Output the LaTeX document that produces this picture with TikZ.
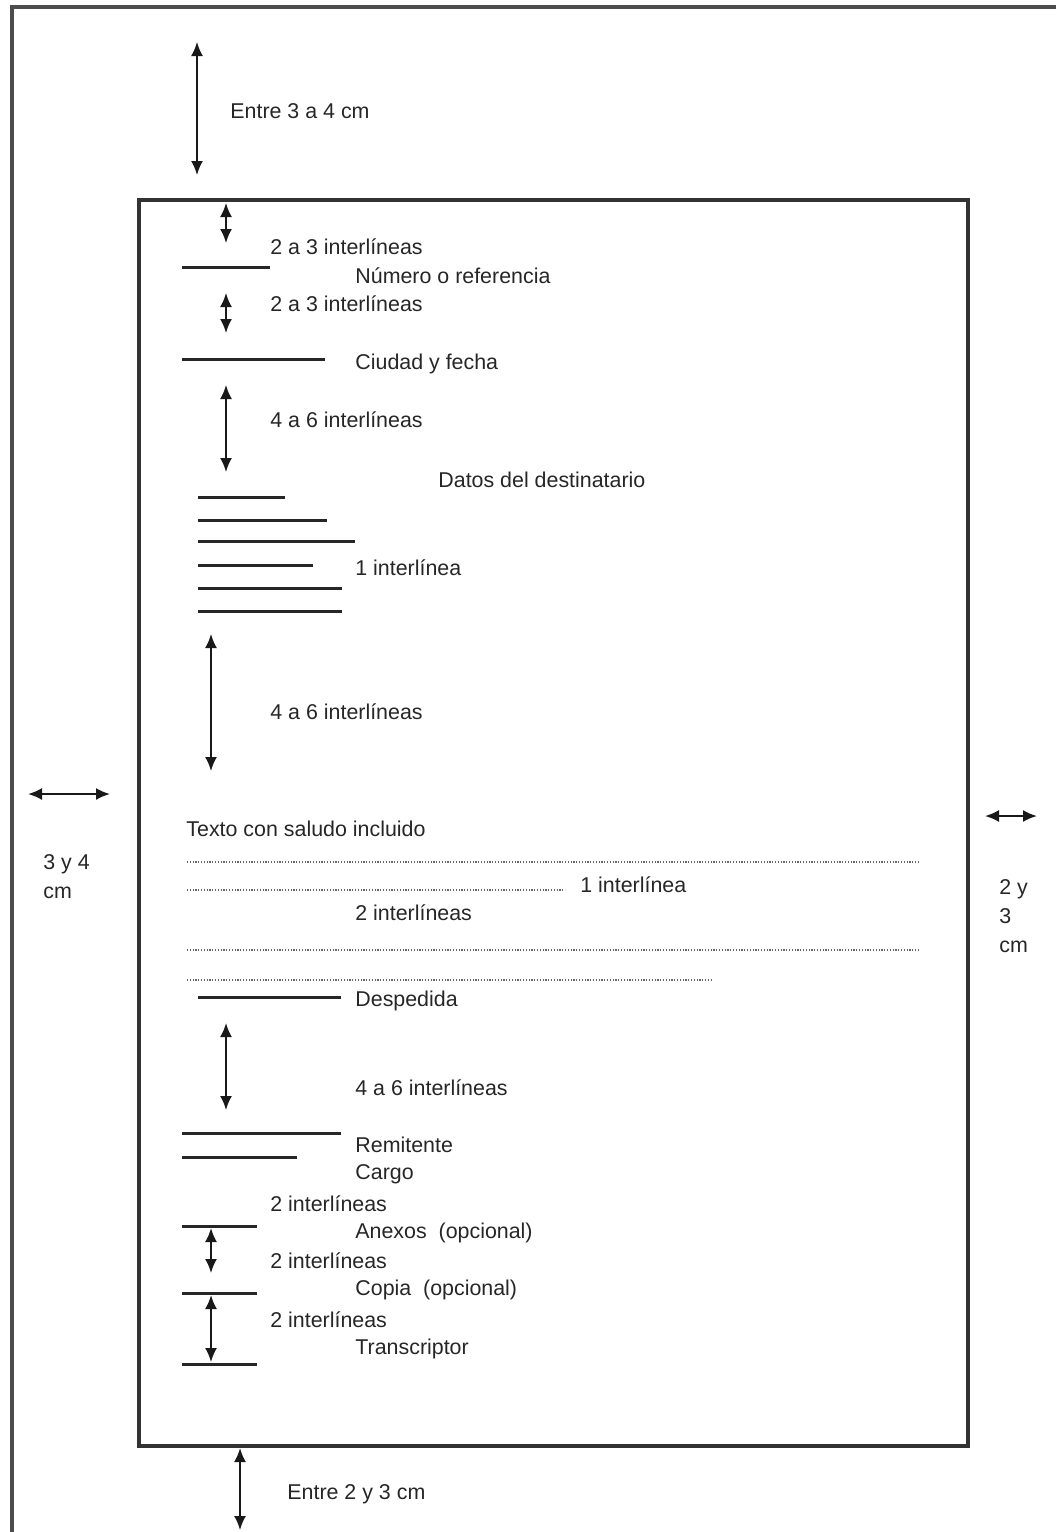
\documentclass[tikz,border=0pt]{standalone}
\usepackage{fontspec}
\setmainfont{Liberation Sans}
\usetikzlibrary{arrows.meta}

\begin{document}
\begin{tikzpicture}[x=0.5pt,y=-0.5pt,
    lbl/.style={anchor=west,inner sep=0pt,text=black!85,font=\fontsize{10.7}{14.5}\selectfont},
    dim/.style={{Latex[length=7pt,width=6pt]}-{Latex[length=7pt,width=6pt]},line width=1pt,black!90},
    rule/.style={line width=1.5pt,black!85},
    dots/.style={line width=0.8pt,black!60,dash pattern=on 0.6pt off 0.8pt}]
    \useasboundingbox (0,0) rectangle (1056,1532);
    \draw[line width=1.7pt,black!70] (1056,7) -- (12,7) -- (12,1532);
    \draw[line width=1.6pt,black!80] (139,200) rectangle (968,1446);
    % margins
    \draw[dim] (197,42) -- (197,175);
    \node[lbl] (top) at (230,111) {Entre 3 a 4 cm};
    \draw[dim] (28,794) -- (110,794);
    \node[lbl,align=left] (left) at (43,877) {3 y 4\\cm};
    \draw[dim] (985,816) -- (1037,816);
    \node[lbl,align=left] (right) at (999,916) {2 y\\3\\cm};
    \draw[dim] (240,1448) -- (240,1530);
    \node[lbl] (bottom) at (287,1494) {Entre 2 y 3 cm};
    % heading
    \draw[dim] (226,203) -- (226,243);
    \node[lbl] (s1) at (270,247) {2 a 3 interlíneas};
    \draw[rule] (182,267) -- (270,267);
    \node[lbl] (ref) at (355,276) {Número o referencia};
    \draw[dim] (226,293) -- (226,333);
    \node[lbl] (s2) at (270,304) {2 a 3 interlíneas};
    \draw[rule] (182,359) -- (325,359);
    \node[lbl] (city) at (355,364) {Ciudad y fecha};
    \draw[dim] (226,385) -- (226,472);
    \node[lbl] (s3) at (270,420) {4 a 6 interlíneas};
    \node[lbl] (dest) at (438,480) {Datos del destinatario};
    \foreach \y/\len in {497/285,520/327,541/355,565/313,588/342,611/342}
        \draw[rule] (198,\y) -- (\len,\y);
    \node[lbl] (s4) at (355,568) {1 interlínea};
    \draw[dim] (211,634) -- (211,771);
    \node[lbl] (s5) at (270,712) {4 a 6 interlíneas};
    % body
    \node[lbl] (body) at (186,829) {Texto con saludo incluido};
    \draw[dots] (187,862) -- (918,862);
    \draw[dots] (187,890) -- (565,890);
    \node[lbl] (s6) at (580,885) {1 interlínea};
    \node[lbl] (s7) at (355,913) {2 interlíneas};
    \draw[dots] (187,950) -- (918,950);
    \draw[dots] (187,980) -- (712,980);
    \draw[rule] (198,997) -- (341,997);
    \node[lbl] (bye) at (355,1001) {Despedida};
    \draw[dim] (226,1023) -- (226,1110);
    \node[lbl] (s8) at (355,1088) {4 a 6 interlíneas};
    % signature
    \draw[rule] (182,1133) -- (341,1133);
    \draw[rule] (182,1157) -- (297,1157);
    \node[lbl] (sender) at (355,1145) {Remitente};
    \node[lbl] (post) at (355,1174) {Cargo};
    \node[lbl] (s9) at (270,1204) {2 interlíneas};
    \draw[rule] (182,1226) -- (257,1226);
    \node[lbl] (annex) at (355,1233) {Anexos\ \ (opcional)};
    \draw[dim] (211,1228) -- (211,1273);
    \node[lbl] (s10) at (270,1261) {2 interlíneas};
    \draw[rule] (182,1293) -- (257,1293);
    \node[lbl] (copy) at (355,1290) {Copia\ \ (opcional)};
    \draw[dim] (211,1295) -- (211,1362);
    \node[lbl] (s11) at (270,1320) {2 interlíneas};
    \draw[rule] (182,1364) -- (257,1364);
    \node[lbl] (typist) at (355,1349) {Transcriptor};
\end{tikzpicture}
\end{document}
